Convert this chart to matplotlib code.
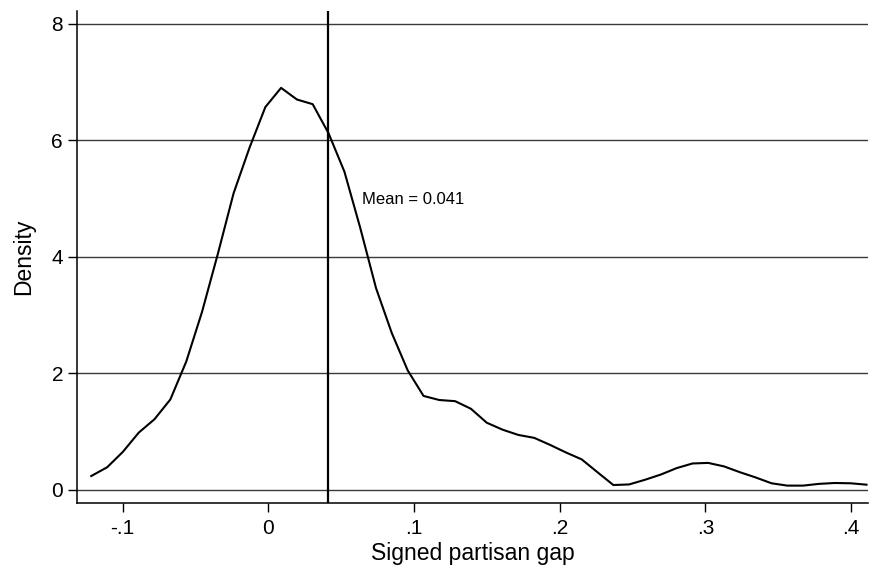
import matplotlib
matplotlib.use("Agg")
import matplotlib.pyplot as plt

plt.rcParams['font.family'] = ['Liberation Sans', 'DejaVu Sans']

# Kernel density estimate evaluation points (signed partisan gap) and densities
gap = [-0.1216, -0.1107, -0.0999, -0.0890, -0.0782, -0.0673, -0.0564, -0.0456,
       -0.0347, -0.0239, -0.0130, -0.0021, 0.0087, 0.0196, 0.0304, 0.0413,
       0.0522, 0.0630, 0.0739, 0.0847, 0.0956, 0.1065, 0.1173, 0.1282,
       0.1390, 0.1499, 0.1608, 0.1716, 0.1825, 0.1933, 0.2042, 0.2151,
       0.2259, 0.2368, 0.2476, 0.2585, 0.2694, 0.2802, 0.2911, 0.3019,
       0.3128, 0.3237, 0.3345, 0.3454, 0.3562, 0.3671, 0.3780, 0.3888,
       0.3997, 0.4106]
density = [0.235, 0.385, 0.65, 0.98, 1.21, 1.55, 2.20, 3.05,
           4.05, 5.09, 5.87, 6.57, 6.90, 6.70, 6.62, 6.12,
           5.46, 4.50, 3.46, 2.69, 2.05, 1.61, 1.54, 1.52,
           1.39, 1.15, 1.03, 0.94, 0.89, 0.77, 0.64, 0.52,
           0.30, 0.08, 0.09, 0.17, 0.26, 0.37, 0.45, 0.46,
           0.40, 0.30, 0.21, 0.11, 0.07, 0.07, 0.10, 0.115,
           0.11, 0.086]
mean_gap = 0.041
mean_label = "Mean = 0.041"

x_ticks = [-0.1, 0.0, 0.1, 0.2, 0.3, 0.4]
x_ticklabels = ["-.1", "0", ".1", ".2", ".3", ".4"]
y_ticks = [0, 2, 4, 6, 8]
y_ticklabels = ["0", "2", "4", "6", "8"]

fig = plt.figure(figsize=(8.7, 5.7), dpi=100)
ax = fig.add_axes([0.0885, 0.1175, 0.9095, 0.8632])

for yv in y_ticks:
    ax.axhline(yv, color='#3a3a3a', lw=1.0, zorder=1)

ax.plot(gap, density, color='black', lw=1.5, zorder=3)
ax.axvline(mean_gap, color='black', lw=1.6, zorder=2)
ax.text(0.0643, 4.98, mean_label, fontsize=12, va='center', ha='left')

ax.set_xlim(-0.1314, 0.4118)
ax.set_ylim(-0.229, 8.22)
ax.set_xticks(x_ticks)
ax.set_xticklabels(x_ticklabels)
ax.set_yticks(y_ticks)
ax.set_yticklabels(y_ticklabels)
ax.tick_params(axis='both', direction='out', length=6.5, width=1.0,
               labelsize=15, color='black')
ax.tick_params(axis='x', pad=5)
ax.tick_params(axis='y', pad=3.5)

for s in ['top', 'right']:
    ax.spines[s].set_visible(False)
for s in ['left', 'bottom']:
    ax.spines[s].set_linewidth(1.1)
    ax.spines[s].set_color('black')

ax.set_xlabel("Signed partisan gap", fontsize=16.5, labelpad=3)
ax.set_ylabel("Density", fontsize=16.5, labelpad=12)

fig.savefig("out.png", dpi=100)
